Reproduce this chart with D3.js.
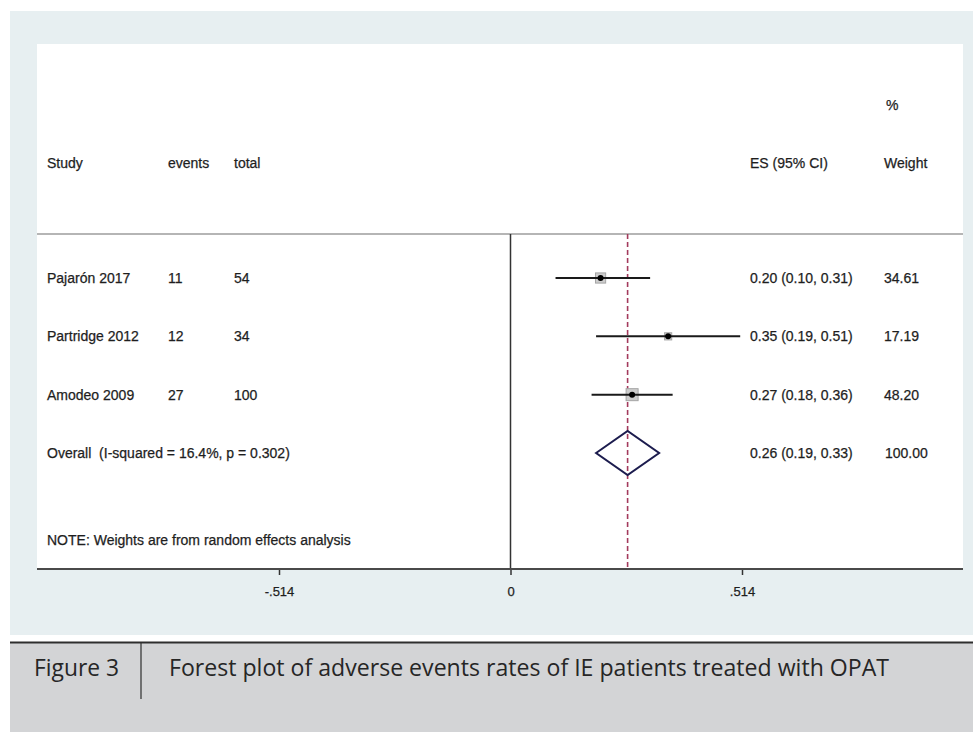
<!DOCTYPE html>
<html>
<head>
<meta charset="utf-8">
<script src="https://cdn.jsdelivr.net/npm/d3@7"></script>
<style>
  html, body { margin: 0; padding: 0; background: #ffffff; }
  svg { display: block; }
  .tbl text { font-family: "Liberation Sans", Arial, sans-serif; font-size: 14px; fill: #1e1e1e;
              stroke: #1e1e1e; stroke-width: 0.25px; white-space: pre; }
  .tick text { font-family: "Liberation Sans", Arial, sans-serif; font-size: 13px; fill: #1e1e1e;
               stroke: #1e1e1e; stroke-width: 0.25px; }
  .caption { font-family: "Open Sans", "DejaVu Sans", sans-serif; font-size: 23px; fill: #262626; }
</style>
</head>
<body>
<svg id="chart" width="973" height="732"></svg>
<script>
// Study-level results
const studies  = ["Pajarón 2017", "Partridge 2012", "Amodeo 2009"];
const events   = [11, 12, 27];
const totals   = [54, 34, 100];
const es       = [0.20, 0.35, 0.27];
const ciLow    = [0.10, 0.19, 0.18];
const ciHigh   = [0.31, 0.51, 0.36];
const weights  = [34.61, 17.19, 48.20];

// Pooled (random effects) result
const overallLabel  = "Overall  (I-squared = 16.4%, p = 0.302)";
const overallES     = 0.26;
const overallCI     = [0.19, 0.33];
const overallWeight = 100.00;

// Axis ticks
const tickValues = [-0.514, 0, 0.514];
const tickLabels = ["-.514", "0", ".514"];

const noteText = "NOTE: Weights are from random effects analysis";
const figLabel = "Figure 3";
const captionText = "Forest plot of adverse events rates of IE patients treated with OPAT";

const svg = d3.select("#chart");
const W = 973, H = 732;

// Layout frame
const panel = { left: 37, top: 44, right: 963, bottom: 569 };
const headerLine = 234;

// Backgrounds
svg.append("rect").attr("x", 10).attr("y", 11).attr("width", W - 10).attr("height", 624).attr("fill", "#e7eff1");
svg.append("rect").attr("x", panel.left).attr("y", panel.top)
  .attr("width", panel.right - panel.left).attr("height", panel.bottom - panel.top).attr("fill", "#ffffff");

// Scales
const x = d3.scaleLinear().domain([-0.514, 0.514]).range([279, 742]);
const rowNames = studies.concat(["overall"]);
const y = d3.scalePoint().domain(rowNames).range([278, 453]);
const boxSide = d3.scaleSqrt().domain([0, 48.20]).range([0, 12]);

const fmt2 = d3.format(".2f");
const tbl = svg.append("g").attr("class", "tbl");
const addText = (tx, ty, t) =>
  tbl.append("text").attr("x", tx).attr("y", ty).attr("xml:space", "preserve").text(t);

// Column headers
const colX = { study: 47, events: 168, total: 234, es: 750, weight: 884 };
const base = 5; // offset from row centre to text baseline
addText(colX.weight + 2, 105 + base, "%");
[["Study", colX.study], ["events", colX.events], ["total", colX.total],
 ["ES (95% CI)", colX.es], ["Weight", colX.weight]].forEach(([t, cx]) => addText(cx, 163 + base, t));

// Header separator
svg.append("line").attr("x1", panel.left).attr("x2", panel.right)
  .attr("y1", headerLine).attr("y2", headerLine)
  .attr("stroke", "#9c9c9c").attr("stroke-width", 1.5);

// Null line at zero
svg.append("line").attr("x1", x(0)).attr("x2", x(0))
  .attr("y1", headerLine).attr("y2", panel.bottom)
  .attr("stroke", "#333333").attr("stroke-width", 1.5);

// Pooled estimate reference line
svg.append("line").attr("x1", x(overallES)).attr("x2", x(overallES))
  .attr("y1", headerLine).attr("y2", panel.bottom)
  .attr("stroke", "#a33a5c").attr("stroke-width", 1.6).attr("stroke-dasharray", "5,3");

// Study rows: table text
studies.forEach((s, i) => {
  const yy = y(s) + base;
  addText(colX.study, yy, s);
  addText(colX.events, yy, events[i]);
  addText(colX.total, yy, totals[i]);
  addText(colX.es, yy, `${fmt2(es[i])} (${fmt2(ciLow[i])}, ${fmt2(ciHigh[i])})`);
  addText(colX.weight, yy, fmt2(weights[i]));
});

// Study rows: weight boxes, CIs, point estimates
const marks = svg.append("g");
studies.forEach((s, i) => {
  const side = boxSide(weights[i]);
  marks.append("rect")
    .attr("x", x(es[i]) - side / 2).attr("y", y(s) - side / 2)
    .attr("width", side).attr("height", side)
    .attr("fill", "#cdcdcd").attr("stroke", "#a5a5a5").attr("stroke-width", 1);
  marks.append("line")
    .attr("x1", x(ciLow[i])).attr("x2", x(ciHigh[i]))
    .attr("y1", y(s)).attr("y2", y(s))
    .attr("stroke", "#1a1a1a").attr("stroke-width", 2);
  marks.append("circle")
    .attr("cx", x(es[i])).attr("cy", y(s)).attr("r", 3)
    .attr("fill", "#000000");
});

// Overall row
const yo = y("overall");
addText(colX.study, yo + base, overallLabel);
addText(colX.es, yo + base, `${fmt2(overallES)} (${fmt2(overallCI[0])}, ${fmt2(overallCI[1])})`);
addText(colX.weight + 1, yo + base, fmt2(overallWeight));

const dh = 22;
marks.append("path")
  .attr("d", d3.line()([
    [x(overallCI[0]), yo], [x(overallES), yo - dh],
    [x(overallCI[1]), yo], [x(overallES), yo + dh]
  ]) + "Z")
  .attr("fill", "none").attr("stroke", "#1c1c4e").attr("stroke-width", 2);

// Note
addText(colX.study, 540 + base, noteText);

// X axis
const axis = svg.append("g").attr("transform", `translate(0,${panel.bottom})`)
  .call(d3.axisBottom(x).tickValues(tickValues)
    .tickFormat((d, i) => tickLabels[i]).tickSize(6).tickPadding(12));
axis.select(".domain").remove();
axis.selectAll(".tick line").attr("stroke", "#333333").attr("stroke-width", 1.5);
svg.append("line").attr("x1", panel.left).attr("x2", panel.right)
  .attr("y1", panel.bottom).attr("y2", panel.bottom)
  .attr("stroke", "#4a4a4a").attr("stroke-width", 2);

// Caption band
svg.append("rect").attr("x", 10).attr("y", 642).attr("width", W - 10).attr("height", H - 642).attr("fill", "#d3d4d6");
svg.append("line").attr("x1", 10).attr("x2", W).attr("y1", 642.5).attr("y2", 642.5)
  .attr("stroke", "#2e2e2e").attr("stroke-width", 2);
svg.append("line").attr("x1", 141).attr("x2", 141).attr("y1", 643).attr("y2", 699)
  .attr("stroke", "#2e2e2e").attr("stroke-width", 1.2);
svg.append("text").attr("class", "caption").attr("x", 34).attr("y", 676)
  .attr("textLength", 85).attr("lengthAdjust", "spacingAndGlyphs").text(figLabel);
svg.append("text").attr("class", "caption").attr("x", 169).attr("y", 676)
  .attr("textLength", 720).attr("lengthAdjust", "spacingAndGlyphs").text(captionText);
</script>
</body>
</html>
